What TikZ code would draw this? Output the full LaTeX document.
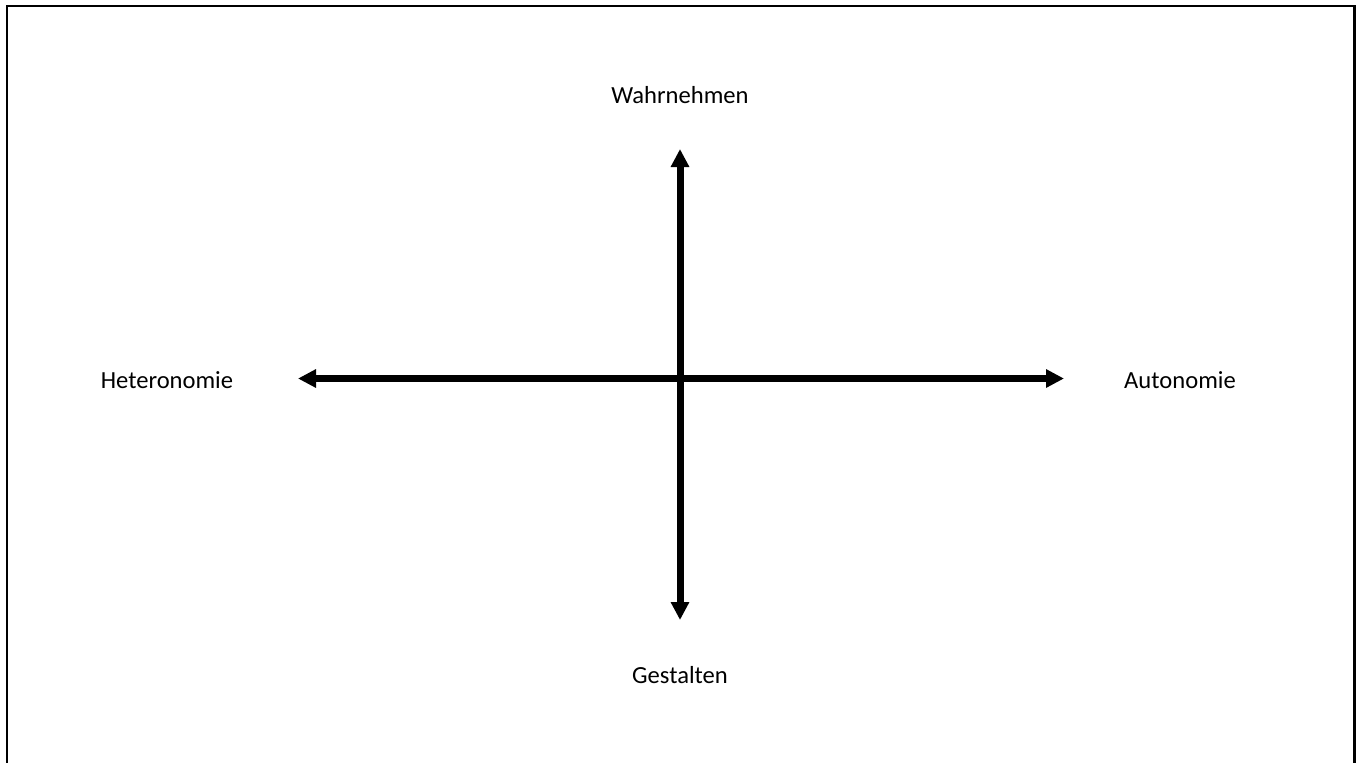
\documentclass[tikz,border=0pt]{standalone}
\usepackage{fontspec}
\setmainfont{Carlito}
\usetikzlibrary{arrows.meta}

\tikzset{
  achse/.style={line width=0.14cm, {Triangle[length=0.36cm,width=0.35cm]}-{Triangle[length=0.36cm,width=0.35cm]}},
  pol/.style={inner sep=0pt, anchor=base, font=\fontsize{14}{17}\selectfont},
}

\begin{document}
\begin{tikzpicture}[x=0.02cm, y=-0.02cm]
        \useasboundingbox (0,0) rectangle (1362,762);
        % ==== FRAME ====
        \clip (0,0) rectangle (1362,762);
        \draw[line width=0.05cm] (7,6) rectangle (1354.5,800);
        % ==== LABELS ====
        \node[pol] (wahrnehmen) at (680,103) {Wahrnehmen};
        \node[pol] (gestalten) at (680,683) {Gestalten};
        \node[pol] (heteronomie) at (167,388) {Heteronomie};
        \node[pol] (autonomie) at (1180,388) {Autonomie};
        % ==== AXES ====
        \coordinate (oben) at (680,149);
        \coordinate (unten) at (680,620);
        \coordinate (links) at (298,378.5);
        \coordinate (rechts) at (1064,378.5);
        \draw[achse] (links) -- (rechts);
        \draw[achse] (unten) -- (oben);
\end{tikzpicture}
\end{document}
